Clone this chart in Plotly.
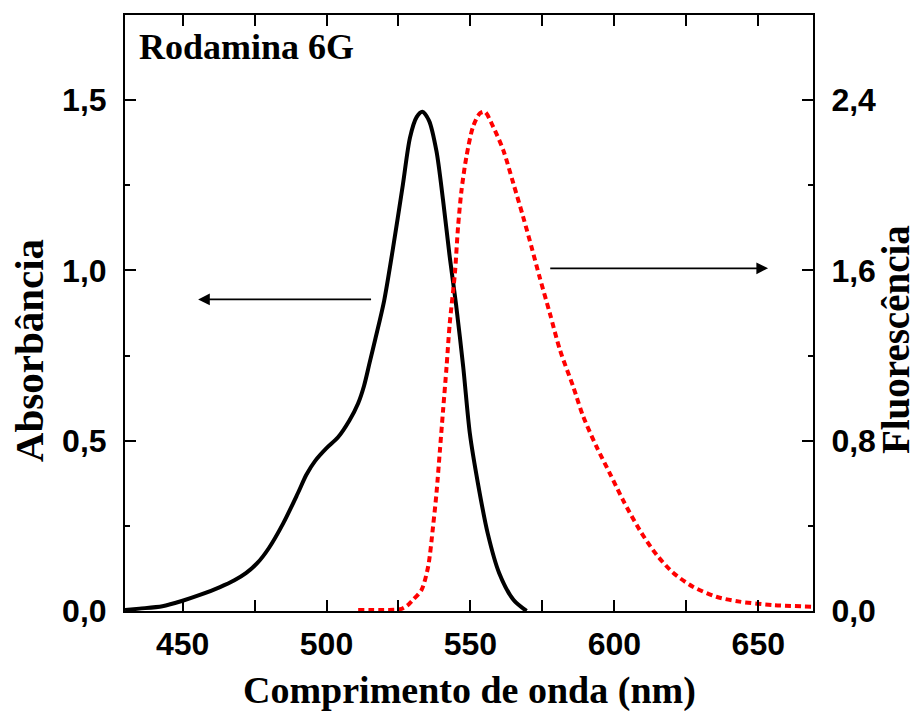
import plotly.graph_objects as go

# Absorbance (left axis)
abs_wl = [430, 435, 443, 450, 456, 463, 468, 472, 476, 480, 485, 490, 493, 496, 500, 504, 508,
          511, 513, 515, 517, 520, 523, 526.5, 529, 531.3, 533.3, 535.6, 538.2, 540.5, 542.8,
          545, 547.5, 549.8, 552.6, 556, 560, 565, 569.5]
abs_vals = [0.003, 0.007, 0.014, 0.03, 0.047, 0.07, 0.09, 0.111, 0.141, 0.185, 0.258, 0.345,
            0.40, 0.44, 0.478, 0.51, 0.56, 0.61, 0.66, 0.73, 0.80, 0.91, 1.06, 1.25, 1.39, 1.45,
            1.466, 1.44, 1.35, 1.205, 1.04, 0.90, 0.716, 0.521, 0.375, 0.228, 0.111, 0.032, 0.0]

# Fluorescence (right axis)
fl_wl = [511, 515, 520, 525.5, 528, 530, 533, 535.3, 537, 538.2, 539.4, 540.5, 541.7, 542.8,
         544.6, 545.7, 546.9, 548.6, 550.9, 553.3, 555, 557.9, 561.4, 564.9, 568.3, 571.2, 574,
         577.6, 581.1, 585.7, 589.2, 593.8, 598.4, 603, 608.8, 614.6, 620.4, 627.3, 635.4,
         643.5, 655, 669]
fl_vals = [0.005, 0.005, 0.005, 0.008, 0.025, 0.052, 0.099, 0.208, 0.396, 0.553, 0.756, 0.944,
           1.147, 1.35, 1.586, 1.805, 1.977, 2.134, 2.275, 2.338, 2.345, 2.275, 2.165, 2.009,
           1.852, 1.711, 1.57, 1.398, 1.226, 1.054, 0.913, 0.772, 0.647, 0.521, 0.380, 0.265,
           0.18, 0.114, 0.067, 0.044, 0.028, 0.02]

x_ticks = [450, 500, 550, 600, 650]
y_ticks = [0.0, 0.5, 1.0, 1.5]
y2_ticks = [0.0, 0.8, 1.6, 2.4]

sans = "Liberation Sans"
serif = "Liberation Serif"

fig = go.Figure()
fig.add_trace(go.Scatter(x=abs_wl, y=abs_vals, mode="lines",
                         line=dict(color="black", width=4, shape="spline", smoothing=0.8),
                         showlegend=False))
fig.add_trace(go.Scatter(x=fl_wl, y=fl_vals, mode="lines", yaxis="y2",
                         line=dict(color="red", width=4, dash="6px,4px", shape="spline", smoothing=0.8),
                         showlegend=False))

axis_common = dict(showline=True, linecolor="black", linewidth=2, ticks="inside",
                   tickcolor="black", tickwidth=2, ticklen=11, showgrid=False, zeroline=False,
                   tickfont=dict(family=sans, size=32, color="black", weight="bold"))

fig.update_layout(
    width=919, height=711,
    margin=dict(l=125, r=106, t=15, b=100),
    plot_bgcolor="white", paper_bgcolor="white",
    separators=",.",
    xaxis=dict(range=[430, 669], tickvals=x_ticks, mirror="allticks",
               minor=dict(dtick=25, tick0=425, ticks="inside", ticklen=5, tickwidth=2, tickcolor="black"),
               ticklabelstandoff=4, **axis_common),
    yaxis=dict(range=[0, 1.75], tickvals=y_ticks, tickformat=".1f",
               minor=dict(dtick=0.25, tick0=0, ticks="inside", ticklen=5, tickwidth=2, tickcolor="black"),
               ticklabelstandoff=10, **axis_common),
    yaxis2=dict(range=[0, 2.8], tickvals=y2_ticks, tickformat=".1f", overlaying="y", side="right",
                minor=dict(dtick=0.4, tick0=0, ticks="inside", ticklen=5, tickwidth=2, tickcolor="black"),
                ticklabelstandoff=10, **axis_common),
)

# Arrows
fig.add_annotation(x=455.4, y=0.915, ax=516, ay=0.915, xref="x", yref="y", axref="x", ayref="y",
                   showarrow=True, arrowhead=2, arrowsize=1.3, arrowwidth=1.8, arrowcolor="black", text="")
fig.add_annotation(x=653.4, y=1.61, ax=577.2, ay=1.61, xref="x", yref="y2", axref="x", ayref="y2",
                   showarrow=True, arrowhead=2, arrowsize=1.3, arrowwidth=1.8, arrowcolor="black", text="")

# Texts
fig.add_annotation(x=0.0174, y=0.946, xref="paper", yref="paper", xanchor="left", yanchor="middle",
                   text="Rodamina 6G", showarrow=False,
                   font=dict(family=serif, size=36, color="black", weight="bold"))
fig.add_annotation(x=0.5, y=-0.133, xref="paper", yref="paper", xanchor="center", yanchor="middle",
                   text="Comprimento de onda (nm)", showarrow=False,
                   font=dict(family=serif, size=38, color="black", weight="bold"))
fig.add_annotation(x=-0.1395, y=0.436, xref="paper", yref="paper", xanchor="center", yanchor="middle",
                   text="Absorbância", showarrow=False, textangle=-90,
                   font=dict(family=serif, size=41, color="black", weight="bold"))
fig.add_annotation(x=1.121, y=0.455, xref="paper", yref="paper", xanchor="center", yanchor="middle",
                   text="Fluorescência", showarrow=False, textangle=-90,
                   font=dict(family=serif, size=39, color="black", weight="bold"))

fig.write_html("out.html")
